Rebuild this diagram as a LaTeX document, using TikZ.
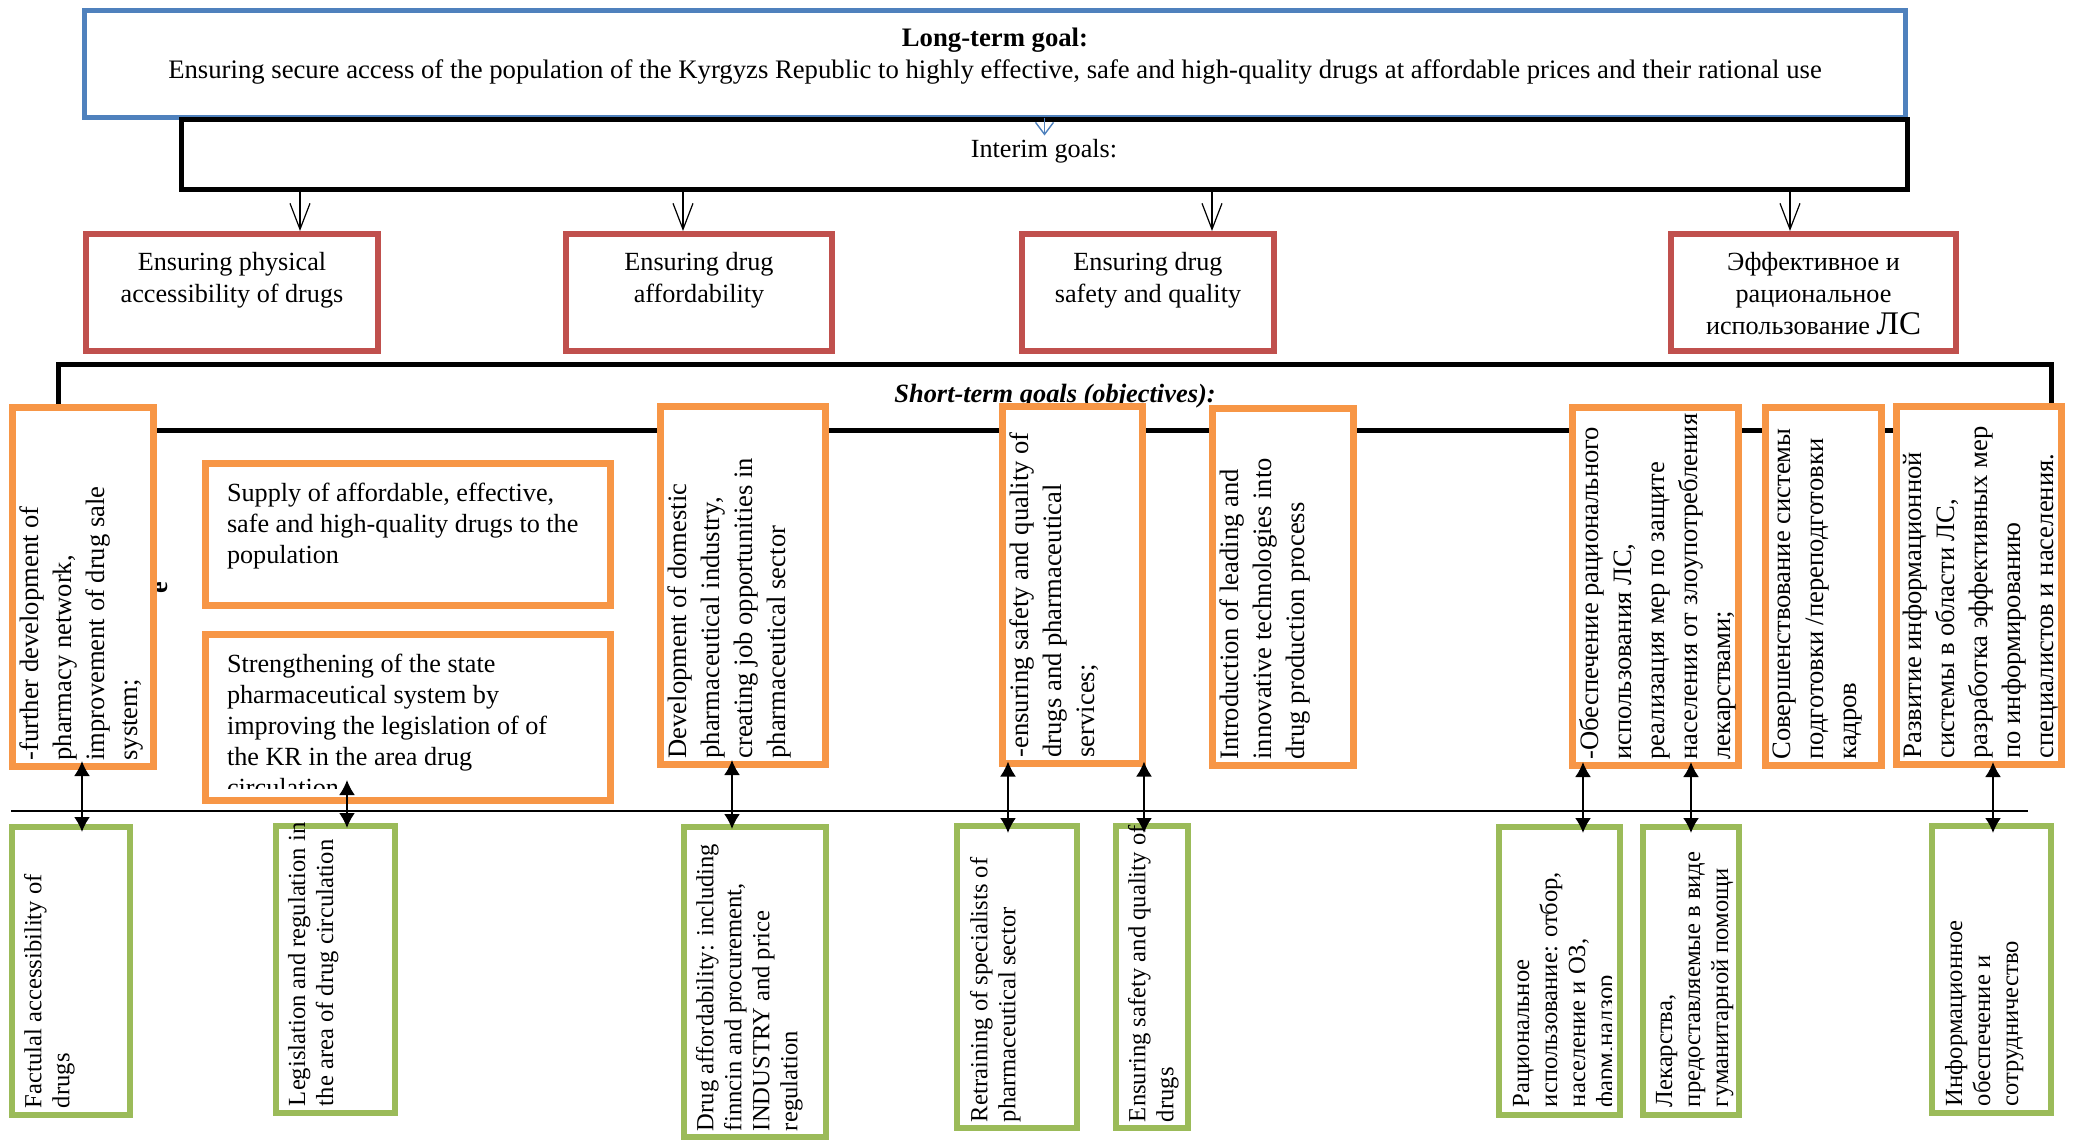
\documentclass[tikz,border=0pt]{standalone}
\usepackage{fontspec}
\setmainfont{Liberation Serif}
\usetikzlibrary{arrows.meta,fit}
\definecolor{goalblue}{HTML}{4F81BD}
\definecolor{subred}{HTML}{C0504D}
\definecolor{objorange}{HTML}{F79646}
\definecolor{taskgreen}{HTML}{9BBB59}
\def\bigfont{\fontsize{13.1}{16}\selectfont}

\begin{document}
\begin{tikzpicture}[x=0.5pt, y=-0.5pt,
	every node/.style={inner sep=0pt, outer sep=0pt},
	plainbox/.style={rectangle, inner sep=0pt, outer sep=0pt},
	goalbox/.style={plainbox, draw=goalblue, line width=2.5pt},
	interimbox/.style={plainbox, draw=black, line width=2.5pt},
	subgoal/.style={plainbox, draw=subred, line width=3pt, fill=white},
	objbox/.style={plainbox, draw=objorange, line width=3.5pt, fill=white},
	taskbox/.style={plainbox, draw=taskgreen, line width=3pt, fill=white},
	redtext/.style={anchor=north, align=center, font=\fontsize{13.1}{16}\selectfont},
	htext/.style={anchor=north west, align=left, font=\fontsize{13.1}{15.4}\selectfont},
	vtext/.style={rotate=90, anchor=north west, align=left, font=\fontsize{13.3}{16.5}\selectfont},
	gtext/.style={rotate=90, anchor=north west, align=left, font=\fontsize{12.3}{14}\selectfont},
	subarrow/.style={-{Straight Barb[length=13pt,width=10pt]}, line width=0.6pt},
	goalarrow/.style={draw=goalblue, line width=0.7pt, -{Straight Barb[length=6pt,width=9pt]}},
	twoway/.style={{Latex[length=7.5pt,width=8pt]}-{Latex[length=7.5pt,width=8pt]}, line width=1pt},
	]
	%%%%% START %%%%%
	\useasboundingbox[fill=white] (0,0) rectangle (2074,1140);

	% long-term and interim goals
	\node[goalbox, fit={(84.5,10.5) (1905.5,117.5)}] (goal) {};
	\node[interimbox, fit={(181.5,119.5) (1907.5,189.5)}] (interim) {};
	\node[align=center, font=\fontsize{13.35}{16}\selectfont] (goaltext) at (995,56)
		{\textbf{Long-term goal:}\\Ensuring secure access of the population of the Kyrgyzs Republic to highly effective, safe and high-quality drugs at affordable prices and their rational use};
	\node[font=\bigfont] (interimtext) at (1044,151) {Interim goals:};
	\draw[goalarrow] (goal.south -| interim.north) -- ([yshift=-8pt]interim.north);

	\node[subgoal, fit={(86,234) (378,351)}] (r1) {};
	\node[subgoal, fit={(566,234) (832,351)}] (r2) {};
	\node[subgoal, fit={(1022,234) (1274,351)}] (r3) {};
	\node[subgoal, fit={(1671,234) (1956,351)}] (r4) {};
	\node[redtext] (r1text) at ([yshift=-9pt]r1.north) {Ensuring physical\\accessibility of drugs};
	\node[redtext] (r2text) at ([yshift=-9pt]r2.north) {Ensuring drug\\affordability};
	\node[redtext] (r3text) at ([yshift=-9pt]r3.north) {Ensuring drug\\safety and quality};
	\node[redtext] (r4text) at ([yshift=-9pt]r4.north) {Эффективное и\\рациональное\\использование {\fontsize{16.5}{16}\selectfont ЛС}};

	\draw[subarrow] ([xshift=34pt]r1.north |- interim.south) -- ([xshift=34pt,yshift=1.5pt]r1.north);
	\draw[subarrow] ([xshift=-8pt]r2.north |- interim.south) -- ([xshift=-8pt,yshift=1.5pt]r2.north);
	\draw[subarrow] ([xshift=32pt]r3.north |- interim.south) -- ([xshift=32pt,yshift=1.5pt]r3.north);
	\draw[subarrow] ([xshift=-11.75pt]r4.north |- interim.south) -- ([xshift=-11.75pt,yshift=1.5pt]r4.north);

	% short-term goals
	\node[interimbox, fit={(58.5,364.5) (2051,430.5)}] (short) {};
	\node[font=\fontsize{13.2}{16}\selectfont\bfseries\itshape] (shorttext) at (1055,396) {Short-term goals (objectives):};
	\node[rotate=90, font=\bigfont\bfseries] (stray) at (161,588) {e};

	\node[objbox, fit={(12.5,407.5) (153.5,766.5)}] (o1) {};
	\node[objbox, fit={(205.5,463.5) (610.5,605.5)}] (o2) {};
	\node[objbox, fit={(205.5,634.5) (610.5,800.5)}] (o3) {};
	\node[objbox, fit={(660.5,406.5) (825.5,764.5)}] (o4) {};
	\node[objbox, fit={(1002.5,406.5) (1142.5,763.5)}] (o5) {};
	\node[objbox, fit={(1212.5,408.5) (1353.5,765.5)}] (o6) {};
	\node[objbox, fit={(1572.5,407.5) (1738.5,765.5)}] (o7) {};
	\node[objbox, fit={(1765.5,407.5) (1881.5,765.5)}] (o8) {};
	\node[objbox, fit={(1896.5,406.5) (2061.5,764.5)}] (o9) {};

	\node[vtext] (o1text) at ([xshift=3.5pt,yshift=3pt]o1.south west)
		{-further development of\\pharmacy network,\\improvement of drug sale\\system;};
	\node[htext] (o2text) at ([xshift=10.75pt,yshift=-10pt]o2.north west)
		{Supply of affordable, effective,\\safe and high-quality drugs to the\\population};
	\begin{scope}
		\clip (205.5,634.5) rectangle (610.5,788);
		\node[htext] (o3text) at ([xshift=10.75pt,yshift=-10pt]o3.north west)
			{Strengthening of the state\\pharmaceutical system by\\improving the legislation of of\\the KR in the area drug\\circulation};
	\end{scope}
	\node[vtext] (o4text) at ([xshift=3.5pt,yshift=3pt]o4.south west)
		{Development of domestic\\pharmaceutical industry,\\creating job opportunities in\\pharmaceutical sector};
	\node[vtext] (o5text) at ([xshift=3.5pt,yshift=3pt]o5.south west)
		{-ensuring safety and quality of\\drugs and pharmaceutical\\services;};
	\node[vtext] (o6text) at ([xshift=3.5pt,yshift=3pt]o6.south west)
		{Introduction of leading and\\innovative technologies into\\drug production process};
	\node[vtext] (o7text) at ([xshift=3.5pt,yshift=3pt]o7.south west)
		{-Обеспечение рационального\\использования ЛС,\\реализация мер по защите\\населения от злоупотребления\\лекарствами;};
	\node[vtext] (o8text) at ([xshift=3.5pt,yshift=3pt]o8.south west)
		{Совершенствование системы\\подготовки /переподготовки\\кадров};
	\node[vtext] (o9text) at ([xshift=3.5pt,yshift=3pt]o9.south west)
		{Развитие информационной\\системы в области ЛС,\\разработка эффективных мер\\по информированию\\специалистов и населения.};

	\draw[line width=0.8pt] (11,811) -- (2028,811);

	% tasks
	\node[taskbox, fit={(12,827) (130,1115)}] (g1) {};
	\node[taskbox, fit={(276,826) (395,1113)}] (g2) {};
	\node[taskbox, fit={(684,827) (826,1137)}] (g3) {};
	\node[taskbox, fit={(957,826) (1077,1128)}] (g4) {};
	\node[taskbox, fit={(1116,826) (1188,1128)}] (g5) {};
	\node[taskbox, fit={(1499,827) (1620,1115)}] (g6) {};
	\node[taskbox, fit={(1643,827) (1739,1115)}] (g7) {};
	\node[taskbox, fit={(1932,826) (2051,1113)}] (g8) {};

	\node[gtext] (g1text) at ([xshift=6pt,yshift=3.5pt]g1.south west) {Factulal accessibility of\\drugs};
	\node[gtext] (g2text) at ([xshift=6pt,yshift=3.5pt]g2.south west) {Legislation and regulation in\\the area of drug circulation};
	\node[gtext] (g3text) at ([xshift=6pt,yshift=3pt]g3.south west) {Drug affordability: including\\finncin and procurement,\\INDUSTRY and price\\regulation};
	\node[gtext] (g4text) at ([xshift=6.5pt,yshift=3pt]g4.south west) {Retraining of specialists of\\pharmaceutical sector};
	\node[gtext] (g5text) at ([xshift=6pt,yshift=3pt]g5.south west) {Ensuring safety and quality of\\drugs};
	\begin{scope}
		\clip (1499,827) rectangle (1611.5,1115);
		\node[gtext] (g6text) at ([xshift=7pt,yshift=4pt]g6.south west) {Рациональное\\использование: отбор,\\население и ОЗ,\\фарм.надзор};
	\end{scope}
	\node[gtext] (g7text) at ([xshift=6.5pt,yshift=4pt]g7.south west) {Лекарства,\\предоставляемые в виде\\гуманитарной помощи};
	\node[gtext] (g8text) at ([xshift=6.5pt,yshift=3.5pt]g8.south west) {Информационное\\обеспечение и\\сотрудничество};

	\draw[twoway] ([xshift=-0.5pt,yshift=2.75pt]o1.south) -- ([xshift=-0.5pt,yshift=-2.5pt]o1.south |- g1.north);
	\draw[twoway] ([xshift=-30.5pt,yshift=10.25pt]o3.south) -- ([xshift=-30.5pt,yshift=-1pt]o3.south |- g2.north);
	\draw[twoway] ([xshift=-5.5pt,yshift=2.25pt]o4.south) -- ([xshift=-5.5pt,yshift=-1pt]o4.south |- g3.north);
	\draw[twoway] ([xshift=-32.25pt,yshift=1pt]o5.south) -- ([xshift=-32.25pt,yshift=-3.5pt]o5.south |- g4.north);
	\draw[twoway] ([xshift=35.75pt,yshift=1pt]o5.south) -- ([xshift=35.75pt,yshift=-3.5pt]o5.south |- g5.north);
	\draw[twoway] ([xshift=-36.25pt,yshift=1.75pt]o7.south) -- ([xshift=-36.25pt,yshift=-3pt]o7.south |- g6.north);
	\draw[twoway] ([xshift=17.75pt,yshift=1.75pt]o7.south) -- ([xshift=17.75pt,yshift=-3pt]o7.south |- g7.north);
	\draw[twoway] ([xshift=7pt,yshift=1.25pt]o9.south) -- ([xshift=7pt,yshift=-3.5pt]o9.south |- g8.north);

	%%%%% END %%%%%
\end{tikzpicture}
\end{document}
